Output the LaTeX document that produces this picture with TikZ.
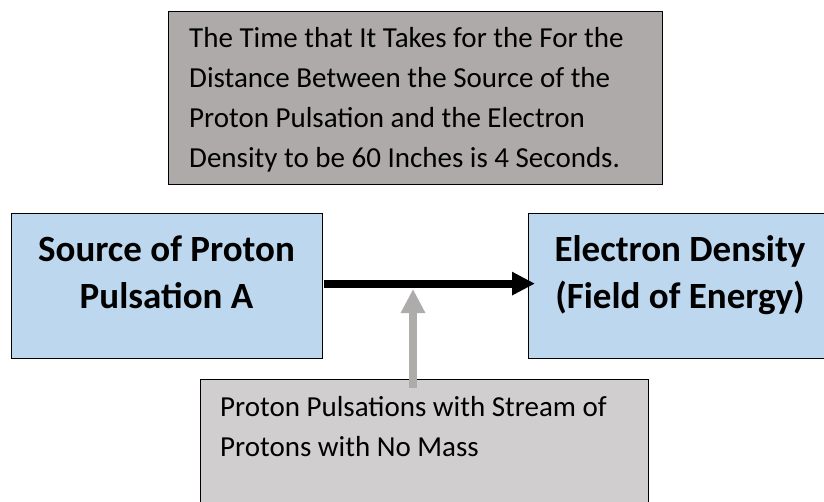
\documentclass[tikz,border=0pt]{standalone}
\usepackage{fontspec}
\setmainfont{Carlito}
\usetikzlibrary{arrows.meta,positioning}
\definecolor{notegray}{HTML}{AEAAAA}
\definecolor{sourceblue}{HTML}{BDD7EE}
\definecolor{streamgray}{HTML}{D0CECE}
\definecolor{pushgray}{HTML}{AEABAB}

\begin{document}
\begin{tikzpicture}[x=1pt, y=-1pt,
  panel/.style={draw=black, line width=1.2pt, anchor=north west, inner sep=0pt},
  plain/.style={font=\fontsize{29}{40}\selectfont, align=left, anchor=base west, inner sep=0pt},
  heavy/.style={font=\fontsize{37}{47}\selectfont\bfseries, align=center, anchor=base, inner sep=0pt}]
  \useasboundingbox (0,0) rectangle (824,501);
  % boxes
  \node (note) [panel, fill=notegray, minimum width=494pt, minimum height=173pt] at (168,11) {};
  \node (src) [panel, fill=sourceblue, minimum width=311pt, minimum height=145pt] at (11,213) {};
  \node (dst) [panel, fill=sourceblue, minimum width=304pt, minimum height=145pt] at (528,213) {};
  \node (stream) [panel, fill=streamgray, minimum width=448pt, minimum height=150pt] at (200,379) {};
  % arrows
  \coordinate (hit) at (413,289);
  \coordinate (foot) at (413,388);
  \draw[-{Triangle[length=23pt,width=22pt]}, line width=8pt, shorten <=1pt, shorten >=-7pt]
  ([yshift=2.5pt]src.east) -- ([yshift=2.5pt]dst.west);
  \draw[-{Triangle[length=24pt,width=23pt]}, line width=8pt, pushgray]
  (foot) -- (hit);
  % texts (placed by the baseline of their last line)
  \node (notetext) [plain] at (189,167) {The Time that It Takes for the For the\\Distance Between the Source of the\\Proton Pulsation and the Electron\\Density to be 60 Inches is 4 Seconds.};
  \node (srctext) [heavy] at (166.5,308) {Source of Proton\\Pulsation A};
  \node (dsttext) [heavy] at (680,308) {Electron Density\\(Field of Energy)};
  \node (streamtext) [plain] at (220,456) {Proton Pulsations with Stream of\\Protons with No Mass};
\end{tikzpicture}
\end{document}
